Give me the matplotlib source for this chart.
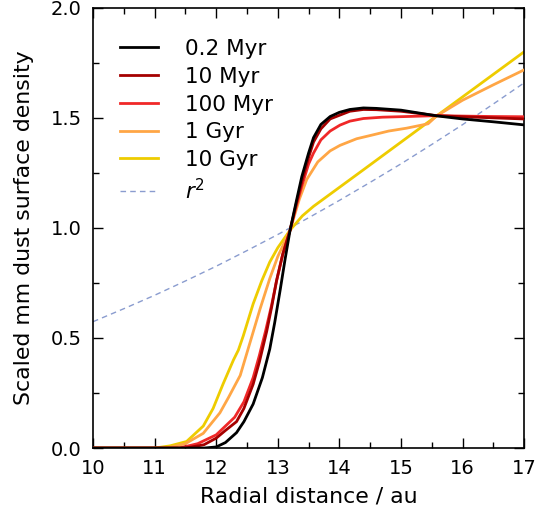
import matplotlib
matplotlib.use("Agg")
import matplotlib.pyplot as plt
from matplotlib.ticker import MultipleLocator

# values
r_02myr = [10, 11.8, 12.0, 12.15, 12.33, 12.45, 12.6, 12.75, 12.87, 12.95, 13.04, 13.12, 13.2, 13.3,
           13.39, 13.5, 13.58, 13.7, 13.85, 14.0, 14.17, 14.39, 14.6, 15.0, 15.58, 16.0, 16.5, 17]
s_02myr = [0, 0, 0.005, 0.025, 0.07, 0.12, 0.2, 0.32, 0.45, 0.57, 0.72, 0.86, 0.99, 1.12,
           1.233, 1.34, 1.41, 1.47, 1.506, 1.525, 1.538, 1.545, 1.543, 1.535, 1.509, 1.495, 1.482, 1.468]

r_10myr = [10, 11.5, 11.8, 12.0, 12.15, 12.33, 12.45, 12.6, 12.7, 12.82, 12.9, 12.98, 13.08, 13.2,
           13.3, 13.39, 13.5, 13.58, 13.7, 13.85, 14.17, 14.39, 14.6, 15.0, 15.58, 16.0, 16.5, 17]
s_10myr = [0, 0, 0.015, 0.045, 0.08, 0.12, 0.18, 0.29, 0.39, 0.53, 0.64, 0.76, 0.88, 0.99,
           1.11, 1.21, 1.32, 1.39, 1.45, 1.495, 1.53, 1.538, 1.537, 1.53, 1.51, 1.505, 1.50, 1.495]

r_100myr = [10, 11.4, 11.7, 12.0, 12.15, 12.3, 12.45, 12.6, 12.7, 12.8, 12.9, 12.98, 13.08, 13.2,
            13.3, 13.39, 13.5, 13.58, 13.7, 13.85, 14.01, 14.17, 14.39, 14.7, 15.09, 15.58, 16.0, 16.5, 17]
s_100myr = [0, 0, 0.02, 0.06, 0.1, 0.14, 0.21, 0.32, 0.42, 0.53, 0.65, 0.76, 0.88, 0.99,
            1.1, 1.19, 1.29, 1.34, 1.40, 1.44, 1.467, 1.485, 1.497, 1.503, 1.506, 1.51, 1.508, 1.506, 1.505]

r_1gyr = [10, 11.2, 11.5, 11.79, 12.06, 12.2, 12.39, 12.55, 12.71, 12.87, 13.0, 13.2, 13.35, 13.47,
          13.65, 13.85, 14.01, 14.28, 14.55, 14.8, 15.09, 15.44, 15.58, 16.0, 16.5, 17]
s_1gyr = [0, 0, 0.02, 0.067, 0.16, 0.23, 0.33, 0.48, 0.63, 0.77, 0.87, 0.99, 1.13, 1.22,
          1.30, 1.35, 1.375, 1.405, 1.423, 1.44, 1.453, 1.473, 1.509, 1.58, 1.65, 1.718]

r_10gyr = [10, 11.0, 11.25, 11.52, 11.79, 11.95, 12.11, 12.28, 12.36, 12.44, 12.6, 12.74, 12.87,
           13.0, 13.2, 13.4, 13.58, 14.39, 15.58, 17]
s_10gyr = [0, 0, 0.01, 0.03, 0.1, 0.18, 0.29, 0.4, 0.445, 0.51, 0.655, 0.76, 0.845,
           0.91, 0.99, 1.055, 1.098, 1.264, 1.509, 1.8]

r_sq = [10, 10.5, 11, 11.5, 12, 12.5, 13, 13.5, 14, 14.5, 15, 15.5, 16, 16.5, 17]
s_sq = [0.574, 0.633, 0.694, 0.759, 0.826, 0.897, 0.970, 1.046, 1.125, 1.207, 1.291, 1.379,
        1.469, 1.563, 1.659]

fig = plt.figure(figsize=(5.57, 5.18), dpi=100)
ax = fig.add_axes([0.167, 0.135, 0.774, 0.85])

ax.plot(r_02myr, s_02myr, color="black", lw=2, label="0.2 Myr", zorder=6)
ax.plot(r_10myr, s_10myr, color="#a50000", lw=2, label="10 Myr", zorder=5)
ax.plot(r_100myr, s_100myr, color="#f02828", lw=2, label="100 Myr", zorder=4)
ax.plot(r_1gyr, s_1gyr, color="#ffa645", lw=2, label="1 Gyr", zorder=3)
ax.plot(r_10gyr, s_10gyr, color="#eecc00", lw=2, label="10 Gyr", zorder=2)
ax.plot(r_sq, s_sq, color="#8a9ccf", lw=1, ls=(0, (4, 3)), label="$r^2$", zorder=1)

ax.set_xlim(10, 17)
ax.set_ylim(0, 2)
ax.xaxis.set_major_locator(MultipleLocator(1))
ax.xaxis.set_minor_locator(MultipleLocator(0.5))
ax.yaxis.set_major_locator(MultipleLocator(0.5))
ax.yaxis.set_minor_locator(MultipleLocator(0.25))
ax.tick_params(which="both", direction="in", top=True, right=True, labelsize=14, width=1)
ax.tick_params(which="major", length=7, pad=8)
ax.tick_params(which="minor", length=4)
for s in ax.spines.values():
    s.set_linewidth(1.2)

ax.set_xlabel("Radial distance / au", fontsize=15.8, labelpad=6)
ax.set_ylabel("Scaled mm dust surface density", fontsize=15.8, labelpad=12)

ax.legend(loc="upper left", bbox_to_anchor=(0.017, 0.973), frameon=False, fontsize=15.5,
          handlelength=1.8, handletextpad=1.25, labelspacing=0.36)

fig.savefig("out.png", dpi=100)
